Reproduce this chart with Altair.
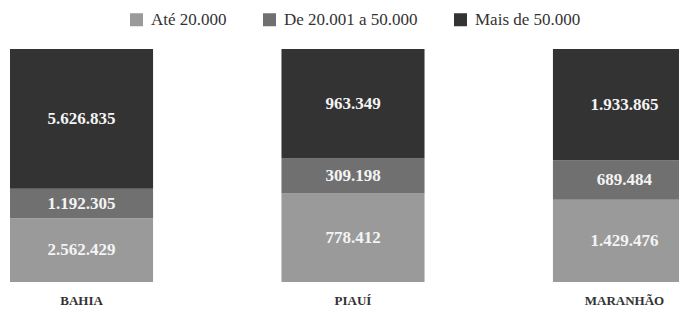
import altair as alt
import pandas as pd

states = ["BAHIA", "PIAUÍ", "MARANHÃO"]
groups = ["Até 20.000", "De 20.001 a 50.000", "Mais de 50.000"]
ate_20 = [2562429, 778412, 1429476]
de_20_50 = [1192305, 309198, 689484]
mais_50 = [5626835, 963349, 1933865]
colors = ["#9a9a9a", "#707070", "#333333"]

rows = []
for i, s in enumerate(states):
    for j, (g, vals) in enumerate(zip(groups, [ate_20, de_20_50, mais_50])):
        v = vals[i]
        rows.append({"state": s, "group": g, "order": j, "value": v,
                     "label": f"{v:,}".replace(",", ".")})
df = pd.DataFrame(rows)

FONT = "Liberation Serif"

base = alt.Chart(df).transform_stack(
    stack="value", groupby=["state"], as_=["y0", "y1"],
    offset="normalize", sort=[alt.SortField("order", order="ascending")]
).transform_calculate(mid="(datum.y0 + datum.y1) / 2")

xscale = alt.Scale(domain=states, range=[2, 688], paddingInner=0.473, paddingOuter=0)
x = alt.X("state:N", scale=xscale, sort=states,
          axis=alt.Axis(title=None, domain=False, ticks=False, labelAngle=0,
                        labelFont=FONT, labelFontSize=13, labelFontWeight="bold",
                        labelColor="#333333", labelPadding=12, labelBaseline="top"))
yscale = alt.Scale(domain=[0, 1], nice=False, zero=True)

bars = base.mark_bar(clip=True).encode(
    x=x,
    y=alt.Y("y0:Q", scale=yscale, axis=None),
    y2="y1:Q",
    color=alt.Color("group:N", sort=groups,
                    scale=alt.Scale(domain=groups, range=colors),
                    legend=alt.Legend(title=None, orient="none", direction="horizontal",
                                      legendX=120, legendY=-38,
                                      symbolType="square", symbolSize=169,
                                      symbolStrokeWidth=0, symbolOpacity=1,
                                      labelFont=FONT, labelFontSize=17,
                                      labelColor="#333333", labelOffset=6,
                                      columnPadding=34, padding=0)),
)

texts = base.mark_text(font=FONT, fontSize=17, fontWeight="bold",
                       color="#f4f4f4", baseline="middle").encode(
    x=alt.X("state:N", scale=xscale, sort=states),
    y=alt.Y("mid:Q", scale=yscale),
    text="label:N",
)

chart = alt.layer(bars, texts).properties(
    width=671, height=233,
    autosize="none",
    padding={"left": 0, "top": 41, "right": 0, "bottom": 25},
).configure(font=FONT).configure_view(stroke=None).configure_legend(
    labelFont=FONT, labelFontSize=17, labelColor="#333333"
)

chart.save("out.html", embed_options={"renderer": "svg", "actions": False})
